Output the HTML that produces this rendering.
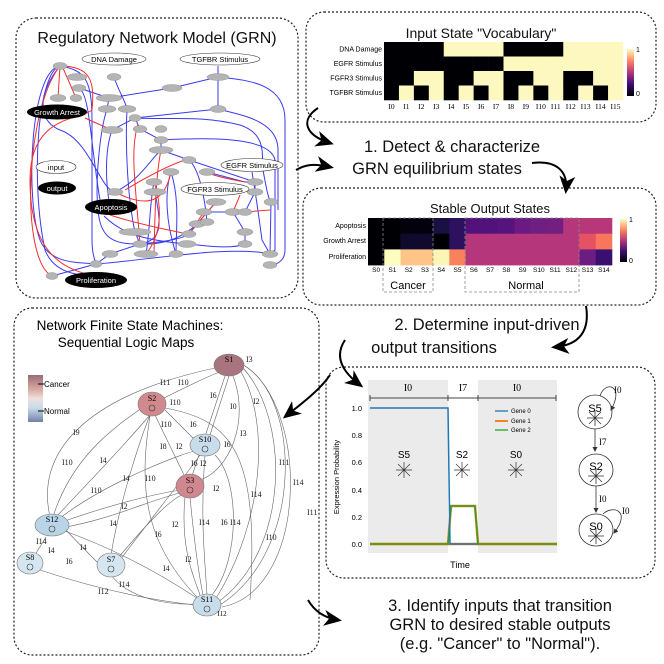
<!DOCTYPE html>
<html><head><meta charset="utf-8"><style>
html,body{margin:0;padding:0;background:#fff}
svg{display:block;font-family:"Liberation Sans","DejaVu Sans",sans-serif}
</style></head><body>
<svg width="664" height="664" viewBox="0 0 664 664" xmlns="http://www.w3.org/2000/svg">
<defs>
<marker id="ah" markerWidth="8" markerHeight="8" refX="6" refY="4" orient="auto" markerUnits="userSpaceOnUse"><path d="M0,0 L8,4 L0,8 L2,4z" fill="#000"/></marker>
<marker id="big" markerWidth="18" markerHeight="16" refX="14" refY="8" orient="auto" markerUnits="userSpaceOnUse"><path d="M0,0 L18,8 L0,16 L5,8z" fill="#000"/></marker>
<marker id="sa" markerWidth="5" markerHeight="5" refX="4" refY="2.5" orient="auto" markerUnits="userSpaceOnUse"><path d="M0,0 L5,2.5 L0,5z" fill="#333"/></marker>
<linearGradient id="mag" x1="0" y1="1" x2="0" y2="0"><stop offset="0" stop-color="#000004"/><stop offset=".25" stop-color="#3b0f70"/><stop offset=".5" stop-color="#b5367a"/><stop offset=".75" stop-color="#fb8761"/><stop offset="1" stop-color="#fcfdbf"/></linearGradient>
<linearGradient id="cn" x1="0" y1="0" x2="0" y2="1"><stop offset="0" stop-color="#9a6a7a"/><stop offset=".3" stop-color="#d8a8a0"/><stop offset=".5" stop-color="#eee0dc"/><stop offset=".7" stop-color="#c8dcea"/><stop offset="1" stop-color="#7280a8"/></linearGradient>
</defs>

<!-- panels -->
<g fill="none" stroke="#222" stroke-width="1.2" stroke-dasharray="2,2">
<rect x="16" y="18" width="282" height="280" rx="20"/>
<rect x="306" y="12" width="350" height="110" rx="18"/>
<rect x="303" y="188" width="353" height="117" rx="18"/>
<rect x="14" y="308" width="305" height="347" rx="18"/>
<rect x="326" y="367" width="329" height="211" rx="18"/>
</g>

<!-- GRN -->
<text x="157" y="43" font-size="16" text-anchor="middle" fill="#111">Regulatory Network Model (GRN)</text>
<g fill="none" stroke="#3a3af0" stroke-width="1">
<path d="M60,66 C30,70 25,200 40,240 C50,265 80,262 96,264"/>
<path d="M60,66 C38,72 30,180 45,250 C55,275 80,275 96,276"/>
<path d="M60,66 C85,70 92,80 92,120 L92,240 C92,255 95,260 96,264"/>
<path d="M79,88 C90,95 90,140 100,200"/>
<path d="M79,88 L109,98 L107,109"/>
<path d="M114,77 C118,90 125,100 127,109"/>
<path d="M218,77 L172,88 L109,98"/>
<path d="M218,66 L218,77 C240,80 285,80 285,120 L285,250 C285,262 275,265 270,265"/>
<path d="M218,77 L218,109"/>
<path d="M218,109 C240,115 278,120 278,150 L278,210"/>
<path d="M218,109 L135,118 L112,130"/>
<path d="M135,118 C170,120 200,115 240,125 C255,130 265,140 262,165"/>
<path d="M135,118 L140,129 L161,140 L161,150"/>
<path d="M161,140 C200,138 270,135 275,160 L275,250 L270,254"/>
<path d="M161,150 L189,160 L255,182 L255,192"/>
<path d="M189,160 C200,170 205,200 207,222"/>
<path d="M161,150 C150,160 140,180 115,192"/>
<path d="M112,130 C105,150 105,180 110,207"/>
<path d="M127,109 C125,150 128,200 135,232"/>
<path d="M107,109 C100,130 95,180 98,210 C100,235 110,245 140,244"/>
<path d="M154,182 C150,200 150,230 146,254"/>
<path d="M171,172 C165,190 165,220 176,254"/>
<path d="M155,192 C160,220 165,240 140,244"/>
<path d="M135,232 L140,244 L110,254 L96,264 L52,276"/>
<path d="M140,244 C160,245 180,240 197,224"/>
<path d="M216,202 L197,224 L189,234"/>
<path d="M233,212 L245,232 L245,244"/>
<path d="M255,192 L245,212 L204,212"/>
<path d="M207,172 L245,182 L255,182"/>
<path d="M262,165 C265,180 268,200 271,202 L270,254"/>
<path d="M252,172 C255,190 258,210 262,240 L270,254"/>
<path d="M245,244 C230,250 200,245 187,244"/>
<path d="M189,234 C180,240 160,242 140,244"/>
<path d="M96,264 C150,260 230,245 270,254"/>
<path d="M60,66 C40,90 35,120 60,130 C90,140 100,190 115,192"/>
<path d="M176,254 C176,230 180,200 171,172"/>
<path d="M189,234 L197,224 L207,222"/>
<path d="M104,216 C120,232 140,240 187,244"/>
</g>
<g fill="none" stroke="#f03030" stroke-width="1">
<path d="M60,66 C25,110 20,260 52,276"/>
<path d="M60,66 C90,66 95,80 92,110 C80,120 30,115 30,180 C30,250 60,270 96,276"/>
<path d="M60,66 L58,98"/><path d="M63,68 L76,98"/>
<path d="M85,118 C100,125 108,128 112,130"/>
<path d="M138,124 C130,150 135,180 140,244"/>
<path d="M161,150 C155,180 155,220 154,254"/>
<path d="M171,172 C165,200 150,210 115,192"/>
<path d="M154,182 C160,200 165,230 146,254"/>
<path d="M185,160 C170,165 150,175 125,190"/>
<path d="M110,215 C140,225 170,230 187,234"/>
<path d="M205,172 C220,178 235,180 245,182"/>
<path d="M216,202 L197,224"/><path d="M240,195 L233,212"/><path d="M270,210 L245,212"/>
<path d="M204,212 L189,234"/>
</g>
<g fill="#b4b4b4" stroke="#888" stroke-width=".4">
<ellipse cx="60" cy="66" rx="7" ry="3.5"/><ellipse cx="77" cy="77" rx="10" ry="3.5"/><ellipse cx="79" cy="88" rx="7" ry="3.5"/><ellipse cx="58" cy="98" rx="8" ry="3.5"/><ellipse cx="76" cy="98" rx="6" ry="3.5"/><ellipse cx="114" cy="77" rx="7" ry="3.5"/><ellipse cx="172" cy="88" rx="10" ry="3.5"/><ellipse cx="218" cy="77" rx="11" ry="3.5"/><ellipse cx="109" cy="98" rx="13" ry="3.5"/><ellipse cx="107" cy="109" rx="9" ry="3.5"/><ellipse cx="127" cy="109" rx="9" ry="3.5"/><ellipse cx="218" cy="109" rx="8" ry="3.5"/><ellipse cx="135" cy="118" rx="6" ry="3.5"/><ellipse cx="112" cy="130" rx="11" ry="3.5"/><ellipse cx="140" cy="129" rx="7" ry="3.5"/><ellipse cx="161" cy="129" rx="6" ry="3.5"/><ellipse cx="161" cy="140" rx="7" ry="3.5"/><ellipse cx="161" cy="150" rx="12" ry="3.5"/><ellipse cx="189" cy="160" rx="7" ry="3.5"/><ellipse cx="171" cy="172" rx="8" ry="3.5"/><ellipse cx="207" cy="172" rx="8" ry="3.5"/><ellipse cx="154" cy="182" rx="8" ry="3.5"/><ellipse cx="255" cy="182" rx="8" ry="3.5"/><ellipse cx="115" cy="192" rx="8" ry="3.5"/><ellipse cx="155" cy="192" rx="11" ry="3.5"/><ellipse cx="255" cy="192" rx="8" ry="3.5"/><ellipse cx="216" cy="202" rx="10" ry="3.5"/><ellipse cx="271" cy="202" rx="7" ry="3.5"/><ellipse cx="204" cy="212" rx="8" ry="3.5"/><ellipse cx="233" cy="212" rx="8" ry="3.5"/><ellipse cx="245" cy="212" rx="7" ry="3.5"/><ellipse cx="197" cy="224" rx="8" ry="3.5"/><ellipse cx="207" cy="222" rx="7" ry="3.5"/><ellipse cx="189" cy="234" rx="7" ry="3.5"/><ellipse cx="135" cy="232" rx="16" ry="3.5"/><ellipse cx="245" cy="232" rx="8" ry="3.5"/><ellipse cx="140" cy="244" rx="7" ry="3.5"/><ellipse cx="187" cy="244" rx="9" ry="3.5"/><ellipse cx="245" cy="244" rx="7" ry="3.5"/><ellipse cx="110" cy="254" rx="8" ry="3.5"/><ellipse cx="146" cy="254" rx="12" ry="3.5"/><ellipse cx="176" cy="254" rx="7" ry="3.5"/><ellipse cx="270" cy="254" rx="8" ry="3.5"/><ellipse cx="96" cy="264" rx="6" ry="3.5"/><ellipse cx="52" cy="276" rx="6" ry="3.5"/><ellipse cx="270" cy="265" rx="7" ry="3.5"/>
</g>
<g font-size="7.5" text-anchor="middle">
<ellipse cx="114" cy="59" rx="32" ry="6" fill="#fff" stroke="#333" stroke-width=".6"/><text x="114" y="62">DNA Damage</text>
<ellipse cx="220" cy="59" rx="40" ry="6" fill="#fff" stroke="#333" stroke-width=".6"/><text x="220" y="62">TGFBR Stimulus</text>
<ellipse cx="252" cy="165" rx="31" ry="6.5" fill="#fff" stroke="#333" stroke-width=".6"/><text x="252" y="168">EGFR Stimulus</text>
<ellipse cx="215" cy="189" rx="34" ry="6.5" fill="#fff" stroke="#333" stroke-width=".6"/><text x="215" y="192">FGFR3 Stimulus</text>
<ellipse cx="56" cy="167" rx="20" ry="6.5" fill="#fff" stroke="#333" stroke-width=".6"/><text x="56" y="170">input</text>
<ellipse cx="57" cy="188" rx="19" ry="6.5" fill="#000"/><text x="57" y="191" fill="#fff">output</text>
<ellipse cx="57" cy="112" rx="30" ry="7.5" fill="#000"/><text x="57" y="115" fill="#fff">Growth Arrest</text>
<ellipse cx="111" cy="207" rx="26" ry="8" fill="#000"/><text x="111" y="210" fill="#fff">Apoptosis</text>
<ellipse cx="96" cy="280" rx="31" ry="8" fill="#000"/><text x="96" y="283" fill="#fff">Proliferation</text>
</g>

<!-- Input vocab -->
<text x="481" y="38" font-size="14" text-anchor="middle" fill="#111">Input State "Vocabulary"</text>
<g id="hm1"></g>
<g font-size="7" text-anchor="end"><text x="382" y="51.5">DNA Damage</text><text x="382" y="66">EGFR Stimulus</text><text x="382" y="80.5">FGFR3 Stimulus</text><text x="382" y="95">TGFBR Stimulus</text></g>
<rect x="627" y="49" width="7" height="47" fill="url(#mag)"/>
<text x="636" y="52" font-size="7">1</text><text x="636" y="96" font-size="7">0</text>

<!-- big texts -->
<g font-size="16.5" fill="#111" text-anchor="middle">
<text x="452" y="152">1. Detect &amp; characterize</text>
<text x="437" y="174">GRN equilibrium states</text>
<text x="487" y="330">2. Determine input-driven</text>
<text x="434" y="353">output transitions</text>
<text x="500" y="611">3. Identify inputs that transition</text>
<text x="500" y="630">GRN to desired stable outputs</text>
<text x="500" y="649">(e.g. "Cancer" to "Normal").</text>
</g>

<!-- Stable output -->
<text x="490" y="213" font-size="13" text-anchor="middle" fill="#111">Stable Output States</text>
<g id="hm2"></g>
<g font-size="7" text-anchor="end"><text x="366" y="228">Apoptosis</text><text x="366" y="243">Growth Arrest</text><text x="366" y="259">Proliferation</text></g>
<rect x="620" y="219" width="7" height="43" fill="url(#mag)"/>
<text x="629" y="222" font-size="7">1</text><text x="629" y="263" font-size="7">0</text>
<g fill="none" stroke="#888" stroke-dasharray="3,2" stroke-width=".8"><rect x="383" y="218" width="50" height="74"/><rect x="465" y="218" width="114" height="74"/></g>
<text x="408" y="289" font-size="11" text-anchor="middle">Cancer</text>
<text x="526" y="289" font-size="11" text-anchor="middle">Normal</text>

<!-- transition plot -->
<rect x="368" y="380" width="80" height="173" fill="#ebebeb"/>
<rect x="478" y="380" width="79" height="173" fill="#ebebeb"/>
<g stroke="#444" stroke-width="1" fill="none"><path d="M370,398 H448 M448,398 H478 M478,398 H556 M370,395 v6 M448,395 v6 M478,395 v6 M556,395 v6"/></g>
<g font-family="Liberation Serif,serif" font-size="10" text-anchor="middle"><text x="408" y="391">I0</text><text x="463" y="391">I7</text><text x="517" y="391">I0</text></g>
<g font-size="7.5" text-anchor="end"><text x="362" y="411">1.0</text><text x="362" y="384" opacity="0"></text><text x="362" y="438">0.8</text><text x="362" y="465">0.6</text><text x="362" y="493">0.4</text><text x="362" y="520">0.2</text><text x="362" y="547">0.0</text></g>
<text x="460" y="568" font-size="9" text-anchor="middle">Time</text>
<text transform="translate(339,477) rotate(-90)" font-size="7.5" text-anchor="middle">Expression Probability</text>
<path d="M370,544 H557" stroke="#f58518" stroke-width="2.5" fill="none"/>
<path d="M370,544 H448 L451,506 H475 L478,544 H557" stroke="#f58518" stroke-width="2.5" fill="none"/>
<path d="M370,544 H448 L451,506 H475 L478,544 H557" stroke="#2ca02c" stroke-width="1.5" fill="none"/>
<path d="M370,408 H448 L450,544 H478" stroke="#1f77b4" stroke-width="1.5" fill="none"/>
<g font-size="6"><path d="M495,411 h13" stroke="#1f77b4" stroke-width="1.3"/><text x="511" y="413">Gene 0</text><path d="M495,421 h13" stroke="#f58518" stroke-width="2"/><text x="511" y="423">Gene 1</text><path d="M495,430 h13" stroke="#2ca02c" stroke-width="1.3"/><text x="511" y="432">Gene 2</text></g>
<g font-size="10" text-anchor="middle"><text x="404" y="458">S5</text><text x="462" y="458">S2</text><text x="516" y="458">S0</text></g>
<g stroke="#333" stroke-width=".7" id="star"><path d="M396,470 h16 M404,462 v16 M398,464 l12,12 M410,464 l-12,12"/></g>
<g stroke="#333" stroke-width=".7"><path d="M454,470 h16 M462,462 v16 M456,464 l12,12 M468,464 l-12,12"/><path d="M508,470 h16 M516,462 v16 M510,464 l12,12 M522,464 l-12,12"/></g>
<!-- mini FSM -->
<g fill="none" stroke="#333" stroke-width=".8">
<ellipse cx="595" cy="412" rx="17" ry="17"/><ellipse cx="596" cy="470" rx="17" ry="16"/><ellipse cx="596" cy="530" rx="17" ry="16"/>
<path d="M595,429 V451" marker-end="url(#sa)"/><path d="M596,486 V512" marker-end="url(#sa)"/>
<path d="M600,396 C605,380 625,385 611,410" marker-end="url(#sa)"/>
<path d="M603,514 C612,505 632,510 614,533" marker-end="url(#sa)"/>
<path d="M587,418 h16 M595,410 v16 M589,412 l12,12 M601,412 l-12,12 M588,476 h16 M596,468 v16 M590,470 l12,12 M602,470 l-12,12 M588,536 h16 M596,528 v16 M590,530 l12,12 M602,530 l-12,12"/>
</g>
<g font-family="Liberation Serif,serif" font-size="9"><text x="614" y="393">I0</text><text x="599" y="445">I7</text><text x="599" y="502">I0</text><text x="622" y="514">I0</text></g>
<g font-size="11" text-anchor="middle"><text x="595" y="412">S5</text><text x="596" y="470">S2</text><text x="596" y="530">S0</text></g>

<!-- FSM panel -->
<text x="130" y="330" font-size="13.5" text-anchor="middle">Network Finite State Machines:</text>
<text x="126" y="347" font-size="13.5" text-anchor="middle">Sequential Logic Maps</text>
<rect x="28" y="375" width="15" height="47" fill="url(#cn)"/>
<path d="M38,384 h6 M38,411 h6" stroke="#000"/>
<text x="44" y="387" font-size="8">Cancer</text><text x="44" y="414" font-size="8">Normal</text>
<g fill="none" stroke="#666" stroke-width=".6">
<path d="M52,525 C30,450 90,395 215,368"/><path d="M52,520 C70,460 110,430 142,408"/>
<path d="M58,515 C100,470 120,450 150,415"/><path d="M60,518 C110,480 190,450 200,450"/>
<path d="M62,522 C110,505 150,495 180,490"/><path d="M60,528 C110,520 150,500 180,493"/>
<path d="M30,563 L46,537"/><path d="M66,530 C80,545 95,560 100,565"/>
<path d="M40,570 C100,590 150,600 195,605"/><path d="M111,575 C130,600 170,605 195,604"/>
<path d="M120,560 C150,520 190,470 200,455"/><path d="M118,558 C150,520 170,500 182,495"/>
<path d="M111,555 C120,500 140,440 150,415"/><path d="M200,600 C140,560 90,540 62,530"/>
<path d="M160,400 C180,390 210,375 220,372"/><path d="M165,410 L195,440"/><path d="M155,415 L185,477"/>
<path d="M229,376 L210,435"/><path d="M225,376 L192,476"/><path d="M233,376 C250,420 230,470 200,480"/>
<path d="M240,370 C270,420 265,520 215,600"/><path d="M243,368 C290,420 290,550 218,602"/>
<path d="M245,366 C300,400 305,550 220,605"/><path d="M240,363 C310,400 310,590 222,607"/>
<path d="M205,455 C200,520 205,560 207,595"/><path d="M190,497 C195,550 200,580 203,595"/>
<path d="M215,455 C240,480 240,560 212,595"/><path d="M165,408 C230,420 260,450 250,600"/>
<path d="M185,497 C180,550 195,580 200,595"/><path d="M150,416 C140,480 140,540 200,600"/>
</g>
<g font-family="Liberation Serif,serif" font-size="8" fill="#222">
<text x="73" y="435">I9</text><text x="62" y="465">I10</text><text x="100" y="463">I4</text><text x="91" y="493">I10</text><text x="123" y="481">I4</text><text x="145" y="481">I10</text><text x="121" y="509">I2</text><text x="110" y="526">I4</text><text x="36" y="544">I14</text><text x="48" y="553">I4</text><text x="66" y="564">I6</text><text x="80" y="550">I4</text><text x="98" y="594">I12</text><text x="119" y="587">I14</text><text x="163" y="571">I4</text><text x="155" y="537">I6</text><text x="172" y="527">I2</text><text x="185" y="562">I2</text><text x="199" y="525">I14</text><text x="221" y="525">I6</text><text x="230" y="525">I14</text><text x="251" y="497">I14</text><text x="266" y="540">I10</text><text x="279" y="465">I11</text><text x="293" y="485">I14</text><text x="307" y="515">I11</text><text x="160" y="385">I11</text><text x="178" y="385">I10</text><text x="170" y="405">I10</text><text x="210" y="398">I6</text><text x="230" y="409">I0</text><text x="253" y="404">I2</text><text x="240" y="436">I3</text><text x="161" y="427">I10</text><text x="190" y="427">I6</text><text x="160" y="449">I8</text><text x="176" y="449">I2</text><text x="191" y="466">I6</text><text x="200" y="466">I2</text><text x="224" y="447">I6</text><text x="213" y="491">I2</text><text x="246" y="362">I3</text><text x="235" y="416" opacity="0"></text></g>
<g stroke="#777" stroke-width=".6">
<ellipse cx="229" cy="365" rx="15" ry="11" fill="#a8747e"/><ellipse cx="152" cy="404" rx="14" ry="12" fill="#d08a8e"/><ellipse cx="205" cy="445" rx="15" ry="11" fill="#c8dcea"/><ellipse cx="190" cy="486" rx="14" ry="12" fill="#d0888e"/><ellipse cx="52" cy="525" rx="17" ry="11" fill="#b8d4e6"/><ellipse cx="30" cy="563" rx="13" ry="11" fill="#d6e6f0"/><ellipse cx="111" cy="565" rx="14" ry="12" fill="#d6e6f0"/><ellipse cx="207" cy="605" rx="14" ry="11" fill="#c8dcea"/>
</g>
<g font-family="Liberation Serif,serif" font-size="8" text-anchor="middle"><text x="229" y="362">S1</text><text x="152" y="401">S2</text><text x="205" y="442">S10</text><text x="190" y="483">S3</text><text x="52" y="522">S12</text><text x="30" y="560">S8</text><text x="111" y="562">S7</text><text x="207" y="602">S11</text><text x="222" y="616" font-size="7">I12</text></g>
<g fill="none" stroke="#333" stroke-width=".6"><circle cx="152" cy="408" r="3"/><circle cx="205" cy="449" r="3"/><circle cx="190" cy="490" r="3"/><circle cx="52" cy="529" r="3"/><circle cx="30" cy="567" r="3"/><circle cx="111" cy="569" r="3"/><circle cx="207" cy="609" r="3"/></g>

<!-- big arrows -->
<g fill="none" stroke="#000" stroke-width="2">
<path d="M318,108 C300,120 305,135 330,143" marker-end="url(#big)"/>
<path d="M296,170 C305,165 312,163 330,167" marker-end="url(#big)"/>
<path d="M532,163 C555,160 568,170 566,190" marker-end="url(#big)"/>
<path d="M586,306 C590,330 580,345 555,347" marker-end="url(#big)"/>
<path d="M345,340 C335,355 340,370 360,385" marker-end="url(#big)"/>
<path d="M330,375 C320,390 300,405 286,416" marker-end="url(#big)"/>
<path d="M308,600 C315,612 325,618 338,620" marker-end="url(#big)"/>
</g>
<script>
(function(){
var ns="http://www.w3.org/2000/svg";
function r(g,x,y,w,h,c){var e=document.createElementNS(ns,"rect");e.setAttribute("x",x);e.setAttribute("y",y);e.setAttribute("width",w+.3);e.setAttribute("height",h+.3);e.setAttribute("fill",c);g.appendChild(e);}
function t(g,x,y,s,fs){var e=document.createElementNS(ns,"text");e.setAttribute("x",x);e.setAttribute("y",y);e.setAttribute("font-size",fs);e.setAttribute("text-anchor","middle");e.textContent=s;g.appendChild(e);}
var g1=document.getElementById("hm1"),L="#fcf8c0",D="#000004",w=239/16,h=14.5;
for(var i=0;i<16;i++){var b=[(i>>2)&1,(i>>3)&1,(i>>1)&1,i&1];for(var j=0;j<4;j++)r(g1,384+i*w,42+j*h,w,h,b[j]?L:D);
var tt=document.createElementNS(ns,"text");tt.setAttribute("x",384+i*w+w/2);tt.setAttribute("y",109);tt.setAttribute("font-size",7.5);tt.setAttribute("text-anchor","middle");tt.setAttribute("font-family","Liberation Serif,serif");tt.textContent="I"+i;g1.appendChild(tt);}
var g2=document.getElementById("hm2"),w2=244/15,h2=15.7;
var A=["#000004","#000004","#03020c","#03020c","#1a1042","#2c115f","#51127c","#51127c","#55137d","#6a1a80","#6f1f81","#721f81","#b5367a","#b73779","#b73779"];
var G=["#000004","#000004","#100b2c","#100b2c","#000004","#2c115f","#b5367a","#b5367a","#b5367a","#b5367a","#b5367a","#b5367a","#b5367a","#e65164","#f8765c"];
var P=["#000004","#fcfdbf","#fec488","#fec488","#fcf5b8","#f8825c","#b5367a","#b5367a","#b5367a","#b5367a","#b5367a","#b5367a","#b5367a","#6b1d81","#3b0f70"];
for(var i=0;i<15;i++){r(g2,368+i*w2,218,w2,h2,A[i]);r(g2,368+i*w2,218+h2,w2,h2,G[i]);r(g2,368+i*w2,218+2*h2,w2,h2,P[i]);t(g2,368+i*w2+w2/2,272,"S"+i,6.5);}
})();
</script>
</svg>
</body></html>
